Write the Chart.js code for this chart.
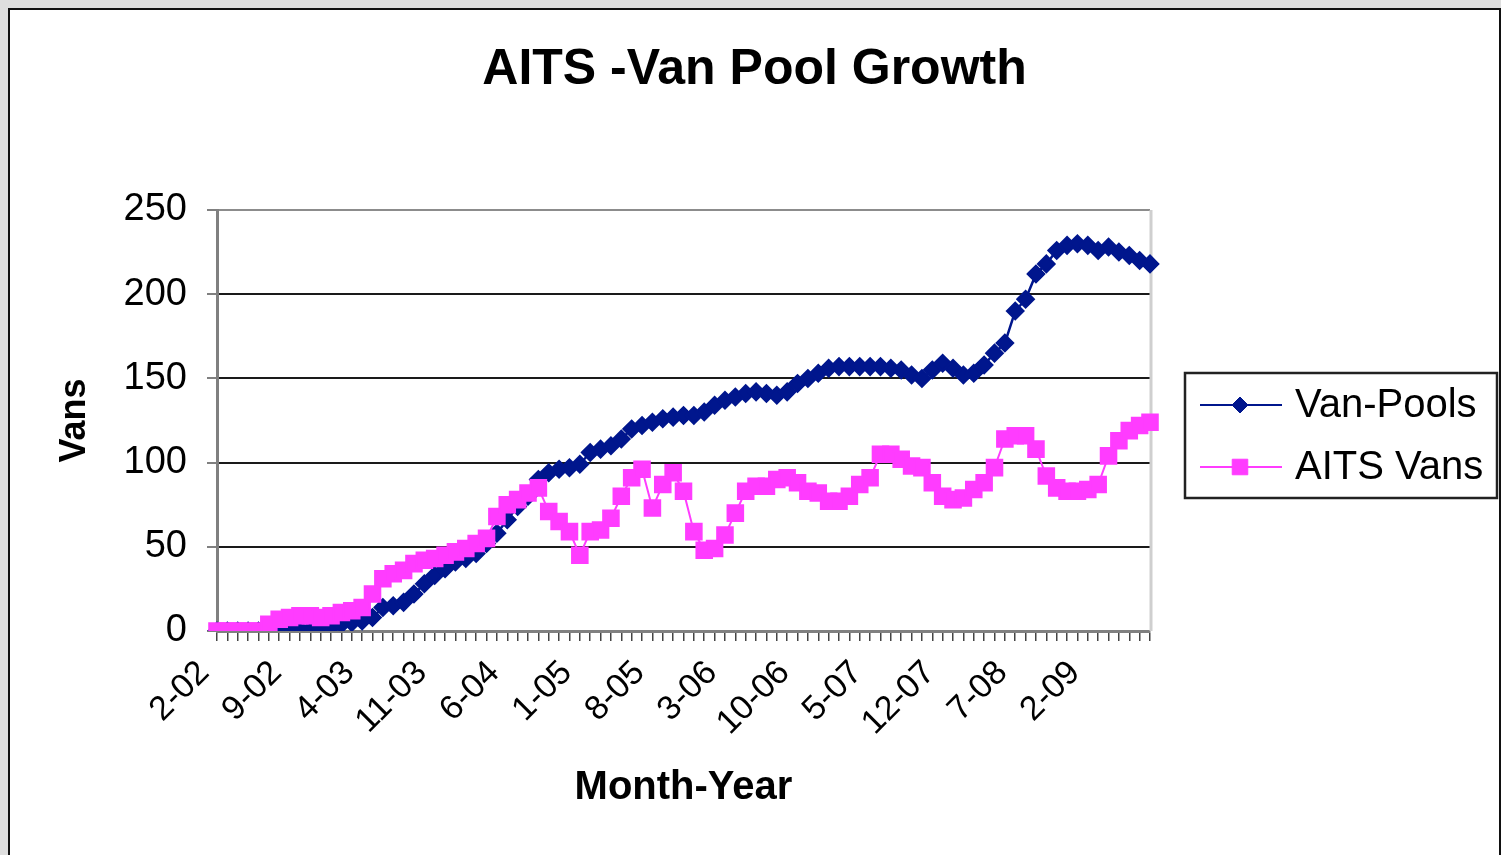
<!DOCTYPE html>
<html lang="en">
<head>
<meta charset="UTF-8" />
<title>AITS -Van Pool Growth</title>
<style>
  html, body { margin: 0; padding: 0; }
  body { width: 1501px; height: 855px; overflow: hidden; background: #dedede; }
  .frame { position: absolute; left: 8px; top: 8px; width: 1489px; height: 900px; background: #fff; border: 2px solid #111; }
  .chart-box { position: absolute; left: 0; top: 0; width: 1489px; height: 845px; }
</style>
</head>
<body>
<div class="frame">
  <div class="chart-box"><canvas id="vanChart"></canvas></div>
</div>

<script src="https://cdn.jsdelivr.net/npm/chart.js@4.4.0/dist/chart.umd.min.js"></script>
<script>
// month-year categories, 2-02 .. 8-09
const months = [
  "2-02","3-02","4-02","5-02","6-02","7-02","8-02","9-02","10-02","11-02","12-02",
  "1-03","2-03","3-03","4-03","5-03","6-03","7-03","8-03","9-03","10-03","11-03","12-03",
  "1-04","2-04","3-04","4-04","5-04","6-04","7-04","8-04","9-04","10-04","11-04","12-04",
  "1-05","2-05","3-05","4-05","5-05","6-05","7-05","8-05","9-05","10-05","11-05","12-05",
  "1-06","2-06","3-06","4-06","5-06","6-06","7-06","8-06","9-06","10-06","11-06","12-06",
  "1-07","2-07","3-07","4-07","5-07","6-07","7-07","8-07","9-07","10-07","11-07","12-07",
  "1-08","2-08","3-08","4-08","5-08","6-08","7-08","8-08","9-08","10-08","11-08","12-08",
  "1-09","2-09","3-09","4-09","5-09","6-09","7-09","8-09"
];

// Van-Pools
const vanPools = [
  0, 0, 0, 0, 0, 0, 0, 1, 1, 1,
  1, 2, 4, 5, 6, 8, 14, 15, 17, 22,
  28, 33, 37, 41, 43, 46, 52, 58, 66, 74,
  80, 90, 94, 96, 97, 99, 106, 108, 110, 114,
  120, 122, 124, 126, 127, 128, 128, 130, 134, 137,
  139, 141, 142, 141, 140, 142, 147, 150, 153, 156,
  157, 157, 157, 157, 157, 156, 155, 152, 150, 155,
  159, 156, 152, 153, 158, 165, 171, 190, 197, 212,
  218, 226, 229, 230, 229, 226, 228, 225, 223, 220,
  218
];

// AITS Vans
const aitsVans = [
  0, 0, 0, 0, 0, 4, 7, 8, 9, 9,
  8, 9, 11, 12, 14, 22, 31, 34, 36, 40,
  42, 43, 45, 47, 49, 52, 55, 68, 75, 78,
  82, 85, 71, 65, 59, 45, 59, 60, 67, 80,
  91, 96, 73, 87, 94, 83, 59, 48, 49, 57,
  70, 83, 86, 86, 90, 91, 88, 83, 82, 77,
  77, 80, 87, 91, 105, 105, 102, 98, 97, 88,
  80, 78, 79, 84, 88, 97, 114, 116, 116, 108,
  92, 85, 83, 83, 84, 87, 104, 113, 119, 122,
  124
];

const yTicks = [0, 50, 100, 150, 200, 250];
const labelEvery = 7;

Chart.defaults.font.family = '"Liberation Sans", Arial, sans-serif';
Chart.defaults.color = "#000";

// plot area right edge (light grey)
const plotFrame = {
  id: "plotFrame",
  beforeDatasetsDraw(chart) {
    const { ctx, chartArea } = chart;
    ctx.save();
    ctx.strokeStyle = "#cfcfcf";
    ctx.lineWidth = 3;
    ctx.beginPath();
    ctx.moveTo(chartArea.right + 1, chartArea.top);
    ctx.lineTo(chartArea.right + 1, chartArea.bottom);
    ctx.stroke();
    ctx.restore();
  },
};

// boxed legend on the right, line + marker like Excel
const boxLegend = {
  id: "boxLegend",
  afterDraw(chart) {
    const { ctx, chartArea } = chart;
    const x = chartArea.right + 35;
    const y = chartArea.top + 163;
    const w = 312;
    const h = 125;
    ctx.save();
    ctx.fillStyle = "#fff";
    ctx.fillRect(x, y, w, h);
    ctx.lineWidth = 2.5;
    ctx.strokeStyle = "#222";
    ctx.strokeRect(x, y, w, h);

    chart.data.datasets.forEach((ds, i) => {
      const cy = y + 32 + i * 62;
      ctx.strokeStyle = ds.borderColor;
      ctx.lineWidth = 2;
      ctx.beginPath();
      ctx.moveTo(x + 15, cy);
      ctx.lineTo(x + 97, cy);
      ctx.stroke();

      ctx.fillStyle = ds.pointBackgroundColor;
      ctx.strokeStyle = ds.pointBorderColor;
      ctx.lineWidth = 1;
      Chart.helpers.drawPoint(ctx, { pointStyle: ds.pointStyle, radius: ds.pointRadius, rotation: 0, borderWidth: 1 }, x + 55, cy);

      ctx.fillStyle = "#000";
      ctx.font = '40px "Liberation Sans", Arial, sans-serif';
      ctx.textAlign = "left";
      ctx.textBaseline = "middle";
      ctx.fillText(ds.label, x + 110, cy + 1);
    });
    ctx.restore();
  },
};

new Chart(document.getElementById("vanChart"), {
  type: "line",
  data: {
    labels: months,
    datasets: [
      {
        label: "Van-Pools",
        data: vanPools,
        borderColor: "#00168d",
        backgroundColor: "#00168d",
        pointBackgroundColor: "#00168d",
        pointBorderColor: "#00168d",
        pointStyle: "rectRot",
        pointRadius: 8,
        borderWidth: 2.5,
        tension: 0,
        order: 1,
      },
      {
        label: "AITS Vans",
        data: aitsVans,
        borderColor: "#ff3cff",
        backgroundColor: "#ff3cff",
        pointBackgroundColor: "#ff3cff",
        pointBorderColor: "#ff3cff",
        pointStyle: "rect",
        pointRadius: 11,
        borderWidth: 2,
        tension: 0,
        order: 0,
      },
    ],
  },
  options: {
    responsive: true,
    maintainAspectRatio: false,
    animation: false,
    layout: { padding: 0 },
    plugins: {
      legend: { display: false },
      tooltip: { enabled: false },
      title: {
        display: true,
        text: "AITS -Van Pool Growth",
        font: { size: 50, weight: "bold" },
        color: "#000",
        padding: { top: 30, bottom: 110 },
      },
    },
    scales: {
      x: {
        offset: false,
        border: { display: true, color: "#808080", width: 3 },
        grid: { drawOnChartArea: false, drawTicks: true, tickLength: 10, color: "#444", lineWidth: 1.5 },
        ticks: {
          autoSkip: false,
          minRotation: 45,
          maxRotation: 45,
          padding: 12,
          labelOffset: -13,
          font: { size: 34 },
          color: "#000",
          callback: function (value, index) {
            return index % labelEvery === 0 ? months[index] : "";
          },
        },
        title: {
          display: true,
          text: "Month-Year",
          font: { size: 40, weight: "bold" },
          color: "#000",
          padding: { top: 0, bottom: 43 },
        },
        afterFit: (scale) => { scale.height = 224; },
      },
      y: {
        min: yTicks[0],
        max: yTicks[yTicks.length - 1],
        border: { display: true, color: "#808080", width: 3 },
        grid: {
          lineWidth: 2,
          tickLength: 10,
          tickColor: "#808080",
          color: (c) => {
            if (c.tick.value === 0) return "rgba(0,0,0,0)";
            if (c.tick.value === 250) return "#8c8c8c";
            return "#1a1a1a";
          },
        },
        ticks: {
          stepSize: 50,
          padding: 20,
          font: { size: 38 },
          color: "#000",
        },
        title: {
          display: true,
          text: "Vans",
          font: { size: 36, weight: "bold" },
          color: "#000",
          padding: { top: 43, bottom: 0 },
        },
        afterFit: (scale) => { scale.width = 207; },
      },
      // empty right-hand box that leaves room for the legend
      legendSpace: {
        type: "linear",
        position: "right",
        min: yTicks[0],
        max: yTicks[yTicks.length - 1],
        grid: { display: false, drawOnChartArea: false },
        border: { display: false },
        ticks: { display: false },
        afterFit: (scale) => { scale.width = 349; },
      },
    },
  },
  plugins: [plotFrame, boxLegend],
});
</script>
</body>
</html>
